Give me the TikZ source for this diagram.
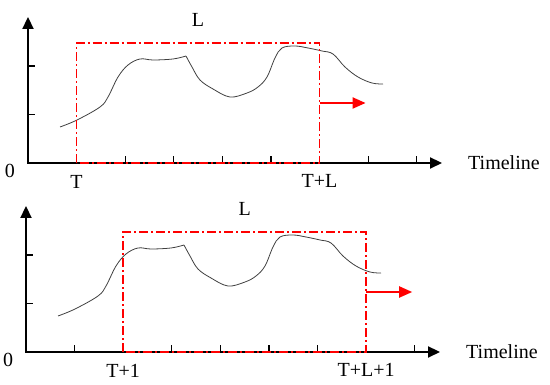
\documentclass[tikz,border=0pt]{standalone}
\usepackage{fontspec}
\setmainfont{Liberation Serif}
\usetikzlibrary{arrows.meta, positioning, calc}

\begin{document}
\begin{tikzpicture}[x=1pt, y=1pt,
    axis/.style={line width=2.2pt, {Triangle[length=12pt, width=11pt]}-{Triangle[length=12pt, width=11pt]}},
    tick/.style={line width=1.2pt},
    window/.style={red, line width=1.6pt, dash pattern=on 9pt off 3pt on 2pt off 3pt},
    shiftarrow/.style={red, line width=2pt, -{Triangle[length=13pt, width=11pt]}},
    signal/.style={black!75, line width=0.8pt},
    every node/.style={font=\fontsize{20}{24}\selectfont, inner sep=2pt}]
  \useasboundingbox (0,0) rectangle (550,385);
  % one panel per window position
  \foreach \ox/\oy/\s/\k/\lo/\hi in {28/222/a/1/T/T+L, 26/33/b/2/T+1/T+L+1}{
  \begin{scope}[shift={(\ox,\oy)}]
    \coordinate (o\s) at (0,0);
    \coordinate (ytip\s) at (0,146);
    \coordinate (xtip\s) at (414,0);
    \coordinate (wl\s) at (48.6*\k,0);
    \coordinate (wr\s) at ({48.6*(\k+5)},120);
    \coordinate (go\s) at ({48.6*(\k+5)},60);
    \coordinate (stop\s) at ({48.6*(\k+5)+46},60);
    % axes and ticks
    \draw[axis] (ytip\s) -- (o\s) -- (xtip\s);
    \foreach \i in {1,...,8}
      \draw[tick] (48.6*\i,0) -- ++(0,7);
    \draw[tick] (0,48.5) -- ++(7,0) (0,97) -- ++(7,0);
    % signal
    \draw[signal] plot[smooth, tension=0.6] coordinates {(32,36) (49,43) (72,56) (80,66) (90,86) (100,98) (112,104) (125,103) (145,104) (158,107)}
      plot[smooth, tension=0.6] coordinates {(158,107) (164,96) (172,83) (185,74) (202,66) (219,70) (230,76) (239,86) (247,105) (254,115) (267,117) (280,115) (294,112) (305,109) (317,96) (330,86) (344,80) (355,79)};
    % window
    \draw[window] (wl\s) rectangle (wr\s);
    \draw[shiftarrow] (go\s) -- (stop\s);
    % labels
    \node (zero\s) at (-18,-8) {0};
    \node (lo\s) at (48.6*\k,-19) {\lo};
    \node (hi\s) at ({48.6*(\k+5)},-18) {\hi};
    \node (len\s) at ({48.6*(\k+2.5)},143) {L};
    \node (time\s) [right=24pt of xtip\s] {Timeline};
  \end{scope}}
\end{tikzpicture}
\end{document}
